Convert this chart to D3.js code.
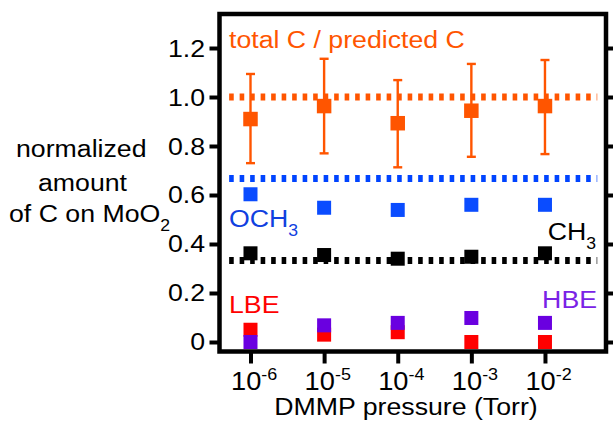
<!DOCTYPE html>
<html><head><meta charset="utf-8">
<script src="https://cdn.jsdelivr.net/npm/d3@7/dist/d3.min.js"></script>
<style>
html,body{margin:0;padding:0;background:#fff;}
svg{display:block;font-family:"Liberation Sans",Arial,Helvetica,sans-serif;}
</style></head>
<body>
<svg id="chart" width="613" height="421"></svg>
<script>
// ---- data ----
const pressures = [1e-6, 1e-5, 1e-4, 1e-3, 1e-2];
const pressureExp = ["-6", "-5", "-4", "-3", "-2"];
const totalC = [0.91, 0.963, 0.893, 0.944, 0.963];
const totalHi = [1.094, 1.156, 1.069, 1.135, 1.151];
const totalLo = [0.73, 0.77, 0.713, 0.756, 0.767];
const och3 = [0.603, 0.548, 0.539, 0.56, 0.56];
const ch3 = [0.362, 0.355, 0.34, 0.348, 0.362];
const lbe = [0.05, 0.03, 0.04, 0.0, 0.0];
const hbe = [0.0, 0.068, 0.078, 0.098, 0.078];
const refValues = [1.0, 0.667, 0.333];
const refColors = ["#ff5500", "#0044ff", "#000000"];
const yTicks = [0, 0.2, 0.4, 0.6, 0.8, 1.0, 1.2];
const yTickLabels = ["0", "0.2", "0.4", "0.6", "0.8", "1.0", "1.2"];
const refExtent = [Math.pow(10, -6.29), Math.pow(10, -1.29)];

// ---- layout ----
const L = 219.5, R = 606, T = 14, B = 351.5;
const SX = 1.09;
const svg = d3.select("#chart");
const x = d3.scaleLog().domain([Math.pow(10, -6.421), Math.pow(10, -1.171)]).range([L, R]);
const y = d3.scaleLinear().domain([-0.0388, 1.3388]).range([B, T]);

// reference dotted lines
svg.append("g").selectAll("line").data(refValues).join("line")
  .attr("x1", x(refExtent[0])).attr("x2", x(refExtent[1]))
  .attr("y1", d => y(d)).attr("y2", d => y(d))
  .attr("stroke", (d, i) => refColors[i]).attr("stroke-width", 7)
  .attr("stroke-dasharray", "4.6,5.9");

// axes (ticks only)
const axL = svg.append("g").attr("transform", `translate(${L},0)`)
  .call(d3.axisLeft(y).tickValues(yTicks).tickSize(10).tickFormat(""));
const axR = svg.append("g").attr("transform", `translate(${R},0)`)
  .call(d3.axisRight(y).tickValues(yTicks).tickSize(9).tickFormat(""));
const axB = svg.append("g").attr("transform", `translate(0,${B})`)
  .call(d3.axisBottom(x).tickValues(pressures).tickSize(12).tickFormat(""));
[axL, axR, axB].forEach(g => {
  g.select(".domain").remove();
  g.selectAll(".tick line").attr("stroke", "#000").attr("stroke-width", 4);
});

// frame
svg.append("rect").attr("x", L).attr("y", T).attr("width", R - L).attr("height", B - T)
  .attr("fill", "none").attr("stroke", "#000").attr("stroke-width", 4.5);

// text helper
function label(x0, y0, parts, size, color, anchor) {
  const t = svg.append("text")
    .attr("transform", `translate(${x0},${y0}) scale(${SX},1)`)
    .attr("font-size", size).attr("fill", color).attr("text-anchor", anchor || "start");
  parts.forEach(p => {
    const ts = t.append("tspan").text(p.t);
    if (p.sub) ts.attr("font-size", size * 0.66).attr("dy", 9);
    if (p.sup) ts.attr("font-size", size * 0.66).attr("dy", -10);
  });
  return t;
}

// y tick labels
yTicks.forEach((v, i) => label(205, y(v) + 8.5, [{t: yTickLabels[i]}], 24.5, "#000", "end"));
// x tick labels
pressures.forEach((p, i) => label(x(p) - 19.5, 390, [{t: "10"}, {t: pressureExp[i], sup: true}], 25, "#000"));

// axis titles
label(406, 415, [{t: "DMMP pressure (Torr)"}], 24.5, "#000", "middle");
label(16, 157, [{t: "normalized"}], 24.5, "#000");
label(38, 191, [{t: "amount"}], 24.5, "#000");
label(9, 222, [{t: "of C on MoO"}, {t: "2", sub: true}], 24.5, "#000");

// series labels
label(229, 48, [{t: "total C / predicted C"}], 24.5, "#ff5500");
label(229, 227, [{t: "OCH"}, {t: "3", sub: true}], 24.5, "#1040e0");
label(596, 240, [{t: "CH"}, {t: "3", sub: true}], 24.5, "#000", "end");
label(229, 313, [{t: "LBE"}], 24.5, "#ff0000");
label(597, 308, [{t: "HBE"}], 24.5, "#7a22e6", "end");

// error bars
const eb = svg.append("g").attr("stroke", "#ff5500").attr("stroke-width", 2.4);
pressures.forEach((p, i) => {
  eb.append("line").attr("x1", x(p)).attr("x2", x(p)).attr("y1", y(totalHi[i])).attr("y2", y(totalLo[i]));
  [totalHi[i], totalLo[i]].forEach(v =>
    eb.append("line").attr("x1", x(p) - 4.5).attr("x2", x(p) + 4.5).attr("y1", y(v)).attr("y2", y(v)));
});

// squares
const S = 14;
function squares(vals, color, size) {
  const s = size || S;
  svg.append("g").selectAll("rect").data(vals).join("rect")
    .attr("x", (d, i) => x(pressures[i]) - s / 2).attr("y", d => y(d) - s / 2)
    .attr("width", s).attr("height", s).attr("fill", color);
}
squares(totalC, "#ff5500", 14.5);
squares(och3, "#0a4cff");
squares(ch3, "#000000");
squares(lbe, "#ff0000");
squares(hbe, "#6a00e0");
</script>
</body></html>
